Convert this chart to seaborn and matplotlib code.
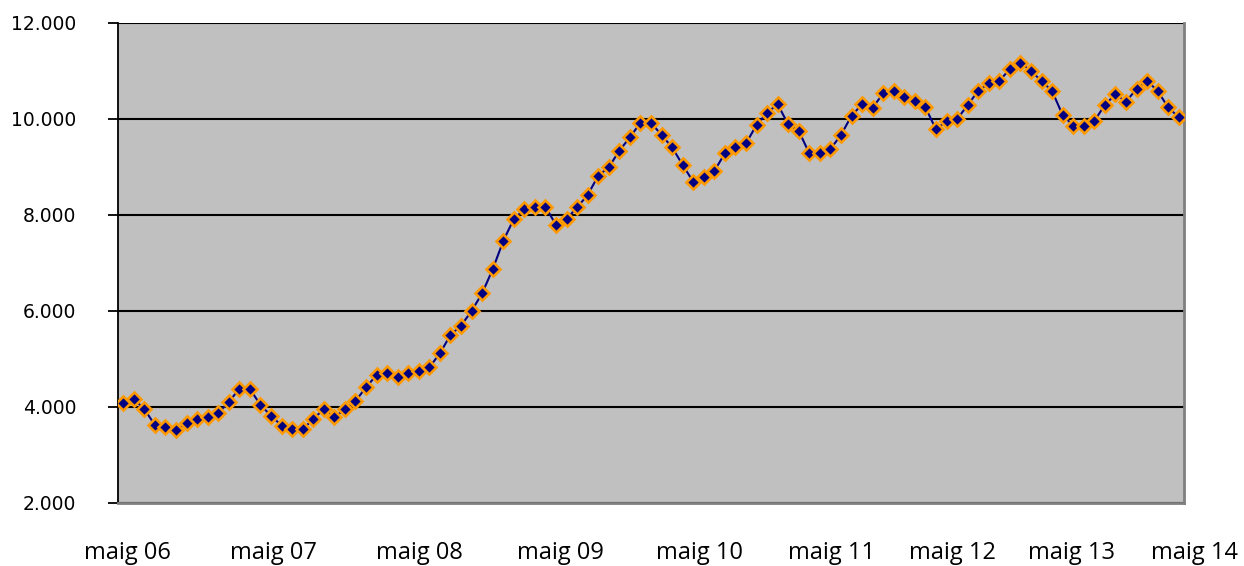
import matplotlib
matplotlib.use("Agg")
import matplotlib.pyplot as plt
import seaborn as sns
import pandas as pd

# dades mensuals (punts de la sèrie)
valors = [4077, 4167, 3952, 3625, 3577, 3521, 3660, 3743, 3785, 3868,
          4111, 4375, 4375, 4042, 3819, 3611, 3535, 3535, 3750, 3958,
          3785, 3952, 4125, 4410, 4667, 4715, 4618, 4715, 4750, 4826,
          5118, 5500, 5694, 6000, 6368, 6868, 7458, 7917, 8118, 8174,
          8174, 7792, 7917, 8160, 8417, 8819, 8993, 9340, 9618, 9923,
          9923, 9667, 9410, 9042, 8694, 8785, 8917, 9285, 9410, 9493,
          9875, 10132, 10306, 9889, 9750, 9285, 9285, 9375, 9667, 10069,
          10306, 10236, 10535, 10583, 10465, 10375, 10243, 9785, 9958, 9993,
          10292, 10583, 10743, 10792, 11042, 11174, 11000, 10792, 10583, 10083,
          9861, 9861, 9958, 10292, 10514, 10361, 10625, 10798, 10583, 10243,
          10035]
etiquetes = ["maig 06", "maig 07", "maig 08", "maig 09", "maig 10",
             "maig 11", "maig 12", "maig 13", "maig 14"]
y_ticks = [2000, 4000, 6000, 8000, 10000, 12000]

# posicions de les etiquetes (en unitats de categoria)
pos_etiquetes = [0.35, 14.2, 28.1, 41.4, 54.6, 67.1, 78.6, 89.8, 101.5]

df = pd.DataFrame({"idx": range(len(valors)), "valor": valors})

fig = plt.figure(figsize=(12.44, 5.66), dpi=100)
ax = fig.add_axes([118 / 1244, 1 - 503 / 566, (1184 - 118) / 1244, (503 - 23) / 566])
ax.set_facecolor("#C0C0C0")

sns.lineplot(data=df, x="idx", y="valor", ax=ax, color="#000080", lw=1.5,
             marker="D", markersize=6.8, markerfacecolor="#000080",
             markeredgecolor="#FF9900", markeredgewidth=1.9, zorder=3)

ax.set_yticks(y_ticks)
ax.set_yticklabels([f"{v:,.0f}".replace(",", ".") for v in y_ticks],
                   fontsize=13.5, family="DejaVu Sans")
ax.set_xticks([])
ax.set_xlim(-0.5, len(valors) - 0.5)
ax.set_ylim(2000, 12000)
ax.yaxis.grid(True, color="black", lw=1.5)
ax.set_axisbelow(True)

# etiquetes de l'eix x (algunes cauen fora del rang de l'eix)
for p, t in zip(pos_etiquetes, etiquetes):
    ax.text(p, -0.104, t, transform=ax.get_xaxis_transform(), ha="center",
            va="center", fontsize=17, family="Open Sans", clip_on=False)

ax.tick_params(axis="y", length=7, width=1.3, direction="out", pad=23, colors="black")

ax.set_xlabel("")
ax.set_ylabel("")
ax.spines["left"].set_color("black")
ax.spines["left"].set_linewidth(1.3)
for s in ["bottom", "right"]:
    ax.spines[s].set_color("#808080")
    ax.spines[s].set_linewidth(2)
ax.spines["top"].set_visible(False)

fig.savefig("out.png", dpi=100)
